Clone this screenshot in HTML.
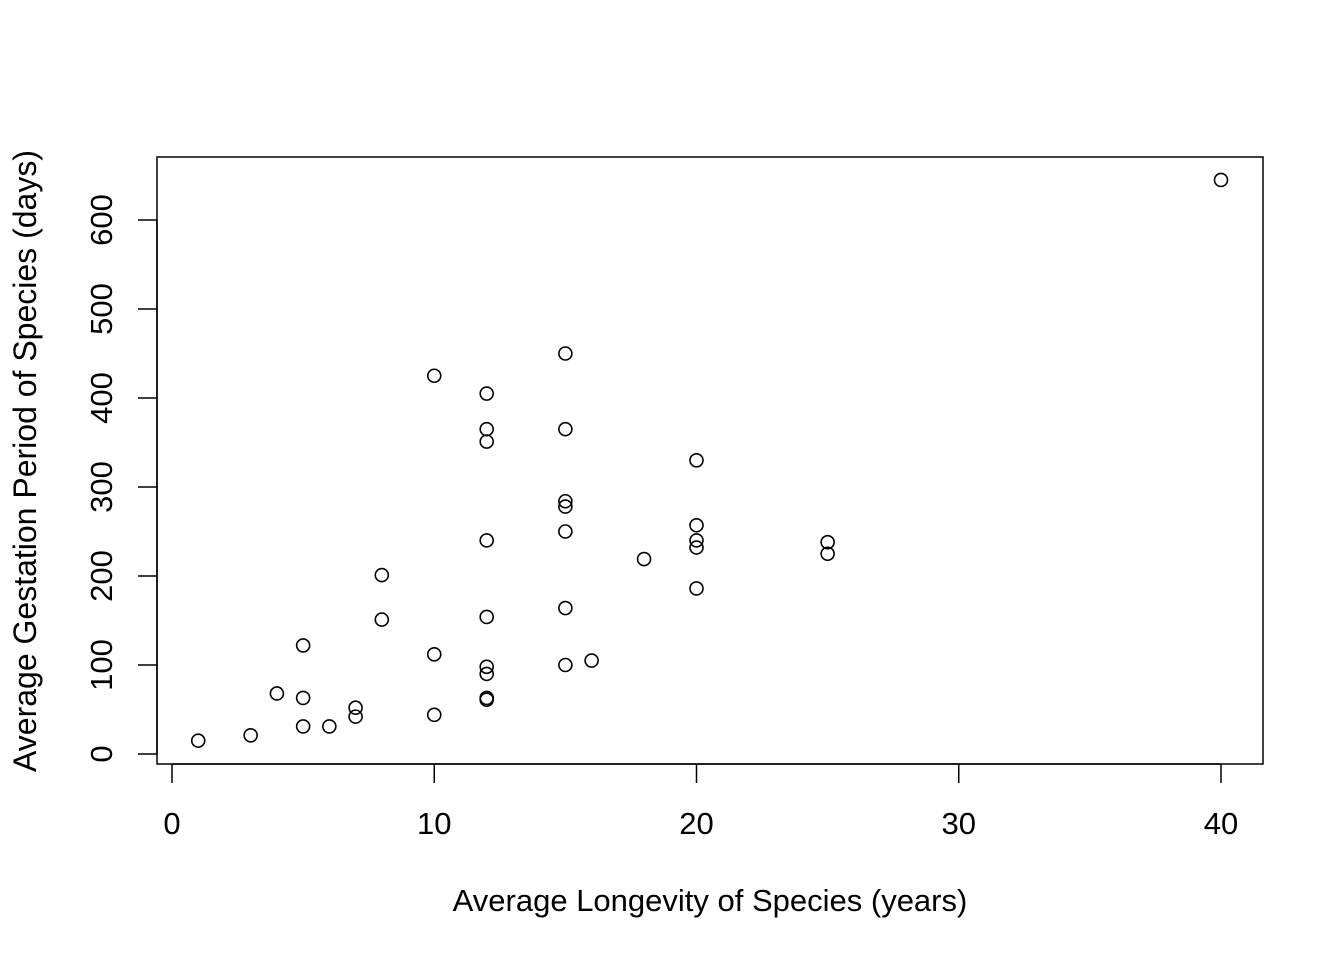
<!DOCTYPE html>
<html><head><meta charset="utf-8"><style>
body{margin:0;background:#fff}
svg text{font-family:"Liberation Sans",Arial,sans-serif;font-size:31px;fill:#000}
</style></head><body>
<svg id="chart" width="1344" height="960" viewBox="0 0 1344 960" xmlns="http://www.w3.org/2000/svg">
<rect x="157" y="157" width="1106" height="607" fill="none" stroke="#000" stroke-width="1.5"/>
<g id="xaxis"></g>
<g id="yaxis"></g>
<g id="points"></g>
<text x="710" y="911" text-anchor="middle">Average Longevity of Species (years)</text>
<text transform="translate(36,461) rotate(-90)" text-anchor="middle" style="font-size:32px">Average Gestation Period of Species (days)</text>
</svg>
<script>
const longevity=[1,3,4,5,5,5,6,7,7,8,8,10,10,10,12,12,12,12,12,12,12,12,12,15,15,15,15,15,15,15,16,18,20,20,20,20,20,25,25,40];
const gestation=[15,21,68,122,63,31,31,52,42,201,151,425,112,44,405,365,351,240,154,98,90,63,61,450,365,284,278,250,164,100,105,219,330,257,240,232,186,238,225,645];
const xTicks=[0,10,20,30,40];
const yTicks=[0,100,200,300,400,500,600];
const NS="http://www.w3.org/2000/svg";
const sx=v=>172+v*(1221-172)/40;
const sy=v=>754-v*(754-220)/600;
function mk(t,a,p){const e=document.createElementNS(NS,t);for(const k in a)e.setAttribute(k,a[k]);p.appendChild(e);return e;}
const xa=document.getElementById('xaxis'),ya=document.getElementById('yaxis'),pg=document.getElementById('points');
mk('line',{x1:sx(0),x2:sx(40),y1:764,y2:764,stroke:'#000','stroke-width':1.5},xa);
xTicks.forEach(t=>{
 const l=mk('line',{x1:sx(t),x2:sx(t),y1:764,y2:783,stroke:'#000','stroke-width':1.5},xa);
 
 
 const tx=mk('text',{x:sx(t),y:834,'text-anchor':'middle'},xa);tx.textContent=t;
 
 
});
mk('line',{x1:157,x2:157,y1:sy(0),y2:sy(600),stroke:'#000','stroke-width':1.5},ya);
yTicks.forEach(t=>{
 const l=mk('line',{x1:138,x2:157,y1:sy(t),y2:sy(t),stroke:'#000','stroke-width':1.5},ya);
 
 
 const tx=mk('text',{transform:`translate(112,${sy(t)}) rotate(-90)`,'text-anchor':'middle'},ya);tx.textContent=t;
 
 
});
longevity.forEach((v,i)=>{
 const c=mk('circle',{cx:sx(v),cy:sy(gestation[i]),r:6.5,fill:'none',stroke:'#000','stroke-width':1.6},pg);
 
 
});
</script>
</body></html>
